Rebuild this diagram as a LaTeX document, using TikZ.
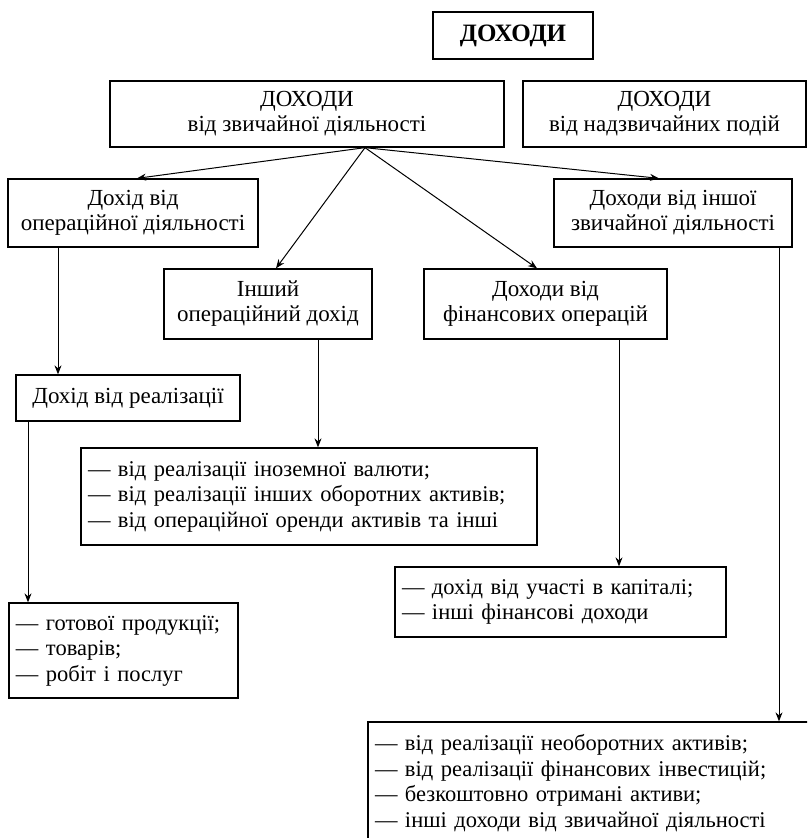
\documentclass[tikz,border=0pt]{standalone}
\usepackage{fontspec}
\setmainfont{Liberation Serif}
\usetikzlibrary{arrows.meta}
\tikzset{
  >={Stealth[length=9pt,width=7pt]},
  box/.style={draw, line width=1.3pt, align=center, inner sep=0pt, minimum width=#1,
              font=\fontsize{23}{25}\selectfont},
  box/.default=200pt,
  headbox/.style={box=#1, font=\fontsize{25}{28}\selectfont\bfseries},
  listbox/.style={draw, line width=1.3pt, align=left, inner xsep=7pt, inner ysep=0pt,
                  text width=#1, font=\fontsize{22.5}{25.5}\selectfont},
  flow/.style={->, line width=1pt}
}

\begin{document}
\begin{tikzpicture}[x=1pt, y=-1pt]
\useasboundingbox (0,0) rectangle (807,838);
\clip (0,0) rectangle (807,838);
\node[headbox=160pt, minimum height=47pt] (top) at (513,35.5) {ДОХОДИ};
\node[box=394pt, minimum height=66pt] (ordinary) at (307,114) {ДОХОДИ\\ від звичайної діяльності};
\node[box=283pt, minimum height=66pt] (extra) at (664.5,114) {ДОХОДИ\\ від надзвичайних подій};
\node[box=250pt, minimum height=68pt] (opact) at (133,213) {Дохід від\\ операційної діяльності};
\node[box=238pt, minimum height=68pt] (otherord) at (673,213) {Доходи від іншої\\ звичайної діяльності};
\node[box=208pt, minimum height=70pt] (otherop) at (268,304) {Інший\\ операційний дохід};
\node[box=243pt, minimum height=70pt] (finop) at (545.5,304) {Доходи від\\ фінансових операцій};
\node[box=224pt, minimum height=46pt] (sales) at (128,398) {Дохід від реалізації};
\node[listbox=442pt, minimum height=97pt] (otheroplist) at (309,496.5) {--- від реалізації іноземної валюти;\\ --- від реалізації інших оборотних активів;\\ --- від операційної оренди активів та інші};
\node[listbox=317pt, minimum height=70pt] (finlist) at (560.5,602) {--- дохід від участі в капіталі;\\ --- інші фінансові доходи};
\node[listbox=215pt, minimum height=95pt] (saleslist) at (123.5,650.5) {--- готової продукції;\\ --- товарів;\\ --- робіт і послуг};
\node[listbox=448pt, minimum height=122pt] (otherordlist) at (599,783) {--- від реалізації необоротних активів;\\ --- від реалізації фінансових інвестицій;\\ --- безкоштовно отримані активи;\\ --- інші доходи від звичайної діяльності};
\coordinate (hub) at (ordinary.south -| 365,0);
\draw[flow] (hub) -- ([xshift=4pt]opact.north);
\draw[flow] (hub) -- ([xshift=8pt]otherop.north);
\draw[flow] (hub) -- ([xshift=-8.5pt]finop.north);
\draw[flow] (hub) -- ([xshift=-14pt]otherord.north);
\draw[flow] (opact.south -| 58,0) -- (sales.north -| 58,0);
\draw[flow] (sales.south -| 28,0) -- (saleslist.north -| 28,0);
\draw[flow] (otherop.south -| 318,0) -- (otheroplist.north -| 318,0);
\draw[flow] (finop.south -| 619,0) -- (finlist.north -| 619,0);
\draw[flow] (otherord.south -| 779,0) -- (otherordlist.north -| 779,0);
\end{tikzpicture}
\end{document}
